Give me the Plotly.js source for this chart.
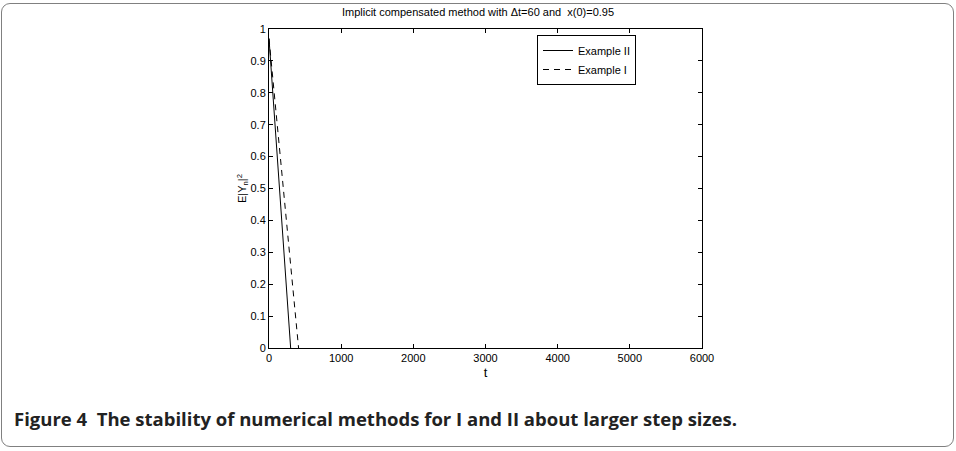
<!DOCTYPE html>
<html>
<head>
<meta charset="utf-8">
<script src="https://cdn.plot.ly/plotly-3.0.1.min.js"></script>
<style>
html,body{margin:0;padding:0;background:#fff;}
#frame{position:absolute;left:1px;top:3px;width:953px;height:444px;border:1.5px solid #808080;border-radius:9px;box-sizing:border-box;}
#chart{position:absolute;left:0;top:0;width:956px;height:451px;}
</style>
</head>
<body>
<div id="frame"></div>
<div id="chart"></div>
<script>
// Example II (solid)
const tII = [0, 300];
const yII = [0.97, 0];
// Example I (dashed)
const tI = [0, 410];
const yI = [0.97, 0];
const xTicks = [0, 1000, 2000, 3000, 4000, 5000, 6000];
const yTicks = [0, 0.1, 0.2, 0.3, 0.4, 0.5, 0.6, 0.7, 0.8, 0.9, 1];
const yTickText = ['0', '0.1', '0.2', '0.3', '0.4', '0.5', '0.6', '0.7', '0.8', '0.9', '1'];

const traces = [
  {x: tII, y: yII, mode: 'lines', name: 'Example II', line: {color: '#000', width: 1}},
  {x: tI, y: yI, mode: 'lines', name: 'Example I', line: {color: '#000', width: 1, dash: '6px,5px'}}
];

const L = 269, R = 702, T = 29, B = 348;
const axFont = {family: 'Liberation Sans, Arial, sans-serif', size: 11, color: '#000'};
const layout = {
  width: 956, height: 451,
  paper_bgcolor: 'rgba(0,0,0,0)', plot_bgcolor: '#fff',
  margin: {l: L, r: 956 - R, t: T, b: 451 - B},
  showlegend: true,
  title: {text: 'Implicit compensated method with \u0394t=60 and  x(0)=0.95', font: axFont, x: 0.5, xanchor: 'center', y: 0.972, yanchor: 'middle'},
  xaxis: {range: [0, 6000], tickvals: xTicks, ticktext: xTicks.map(String), ticks: 'inside', ticklen: 4, tickcolor: '#000',
    showline: true, linecolor: '#000', linewidth: 1, mirror: 'ticks', showgrid: false, zeroline: false,
    tickfont: axFont, title: {text: 't', font: {family: 'Liberation Sans, Arial, sans-serif', size: 13, color: '#000'}, standoff: 4}},
  yaxis: {range: [0, 1], tickvals: yTicks, ticktext: yTickText, ticks: 'inside', ticklen: 4, tickcolor: '#000',
    showline: true, linecolor: '#000', linewidth: 1, mirror: 'ticks', showgrid: false, zeroline: false,
    tickfont: axFont, title: {text: 'E|Y<sub>n</sub>|<sup>2</sup>', font: axFont, standoff: 0}},
  legend: {x: (537 - L) / (R - L), y: (B - 35) / (B - T), xanchor: 'left', yanchor: 'top', bgcolor: '#fff', bordercolor: '#000', borderwidth: 1,
    font: {family: 'Liberation Sans, Arial, sans-serif', size: 11, color: '#000'}, tracegroupgap: 0, itemwidth: 30},
  annotations: [{
    xref: 'paper', yref: 'paper', x: (12 - L) / (R - L), y: (B - 418) / (B - T), xanchor: 'left', yanchor: 'middle', showarrow: false,
    text: '<b>Figure 4  The stability of numerical methods for I and II about larger step sizes.</b>',
    font: {family: 'Open Sans, sans-serif', size: 18.5, color: '#222'}
  }]
};
Plotly.newPlot('chart', traces, layout, {displayModeBar: false, staticPlot: true});
</script>
</body>
</html>
